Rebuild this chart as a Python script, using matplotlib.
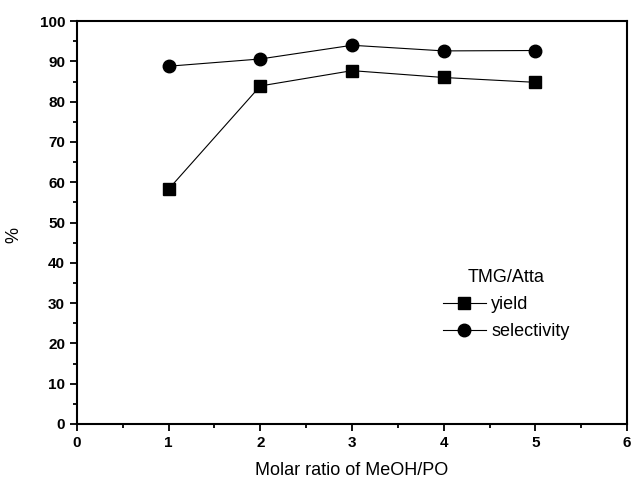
import numpy as np
import matplotlib.pyplot as plt
from matplotlib.ticker import MultipleLocator

# molar ratio MeOH/PO
ratio = [1, 2, 3, 4, 5]
# yield and selectivity, %
yield_pct = [58.3, 83.9, 87.7, 86.0, 84.8]
selectivity_pct = [88.8, 90.6, 94.0, 92.6, 92.7]

plt.rcParams['font.family'] = ['Liberation Sans', 'DejaVu Sans']

fig = plt.figure(figsize=(6.33, 4.86), dpi=100)
ax = fig.add_axes([0.1216, 0.1276, 0.869, 0.829])

ax.plot(ratio, yield_pct, color='black', marker='s', markersize=9, linewidth=0.8, label='yield')
ax.plot(ratio, selectivity_pct, color='black', marker='o', markersize=9, linewidth=0.8, label='selectivity')

ax.set_xlim(0, 6)
ax.set_ylim(0, 100)
ax.xaxis.set_major_locator(MultipleLocator(1))
ax.xaxis.set_minor_locator(MultipleLocator(0.5))
ax.yaxis.set_major_locator(MultipleLocator(10))
ax.yaxis.set_minor_locator(MultipleLocator(5))
ax.tick_params(which='major', direction='out', length=5, width=1.3, labelsize=11)
ax.tick_params(which='minor', direction='out', length=3, width=1.3)
for lab in ax.get_xticklabels() + ax.get_yticklabels():
    lab.set_fontweight('bold')
for sp in ax.spines.values():
    sp.set_linewidth(1.5)

ax.set_xlabel('Molar ratio of MeOH/PO', fontsize=13)
ax.set_ylabel('%', fontsize=13)
ax.xaxis.set_label_coords(0.5, -0.095)
ax.yaxis.set_label_coords(-0.1, 0.47)

leg = ax.legend(title='TMG/Atta', loc='upper left', bbox_to_anchor=(0.635, 0.425), frameon=False,
                fontsize=13, title_fontsize=13, handlelength=2.4, handletextpad=0.3, labelspacing=0.55)

fig.savefig('out.png', dpi=100)
